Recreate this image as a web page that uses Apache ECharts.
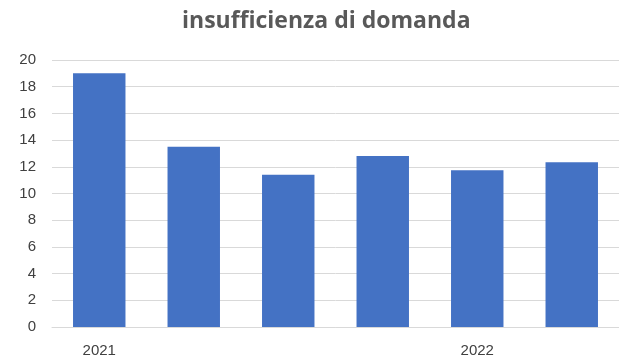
<!DOCTYPE html>
<html>
<head>
<meta charset="utf-8">
<script src="https://cdn.jsdelivr.net/npm/echarts@6/dist/echarts.min.js"></script>
<style>
  html, body { margin: 0; padding: 0; background: #fff; }
  #chart { width: 619px; height: 360px; }
</style>
</head>
<body>
<div id="chart"></div>
<script>
// Half-year periods; only the first of each year carries a label
const categories = ['2021', '', '', '', '2022', ''];
const values = [19, 13.5, 11.4, 12.8, 11.75, 12.35];
const yTicks = { min: 0, max: 20, step: 2 };

const chart = echarts.init(document.getElementById('chart'));
chart.setOption({
  animation: false,
  title: {
    text: 'insufficienza di domanda',
    left: 177,
    top: 5,
    textStyle: { fontFamily: 'Open Sans', fontWeight: 'bold', fontSize: 23, color: '#595959' }
  },
  grid: { left: 52, width: 574, top: 60, bottom: 33 },
  xAxis: {
    type: 'category',
    data: categories,
    axisTick: { show: false },
    axisLine: { lineStyle: { color: '#d9d9d9', width: 1 } },
    axisLabel: { interval: 0, color: '#404040', fontSize: 15, fontFamily: 'Liberation Sans', margin: 16 }
  },
  yAxis: {
    type: 'value',
    min: yTicks.min,
    max: yTicks.max,
    interval: yTicks.step,
    axisLine: { show: false },
    axisTick: { show: false },
    splitLine: { lineStyle: { color: '#d9d9d9', width: 1 } },
    axisLabel: { color: '#404040', fontSize: 15, fontFamily: 'Liberation Sans', margin: 16 }
  },
  series: [{
    type: 'bar',
    data: values,
    barWidth: '55.5%',
    itemStyle: { color: '#4472c4' }
  }]
});
</script>
</body>
</html>
